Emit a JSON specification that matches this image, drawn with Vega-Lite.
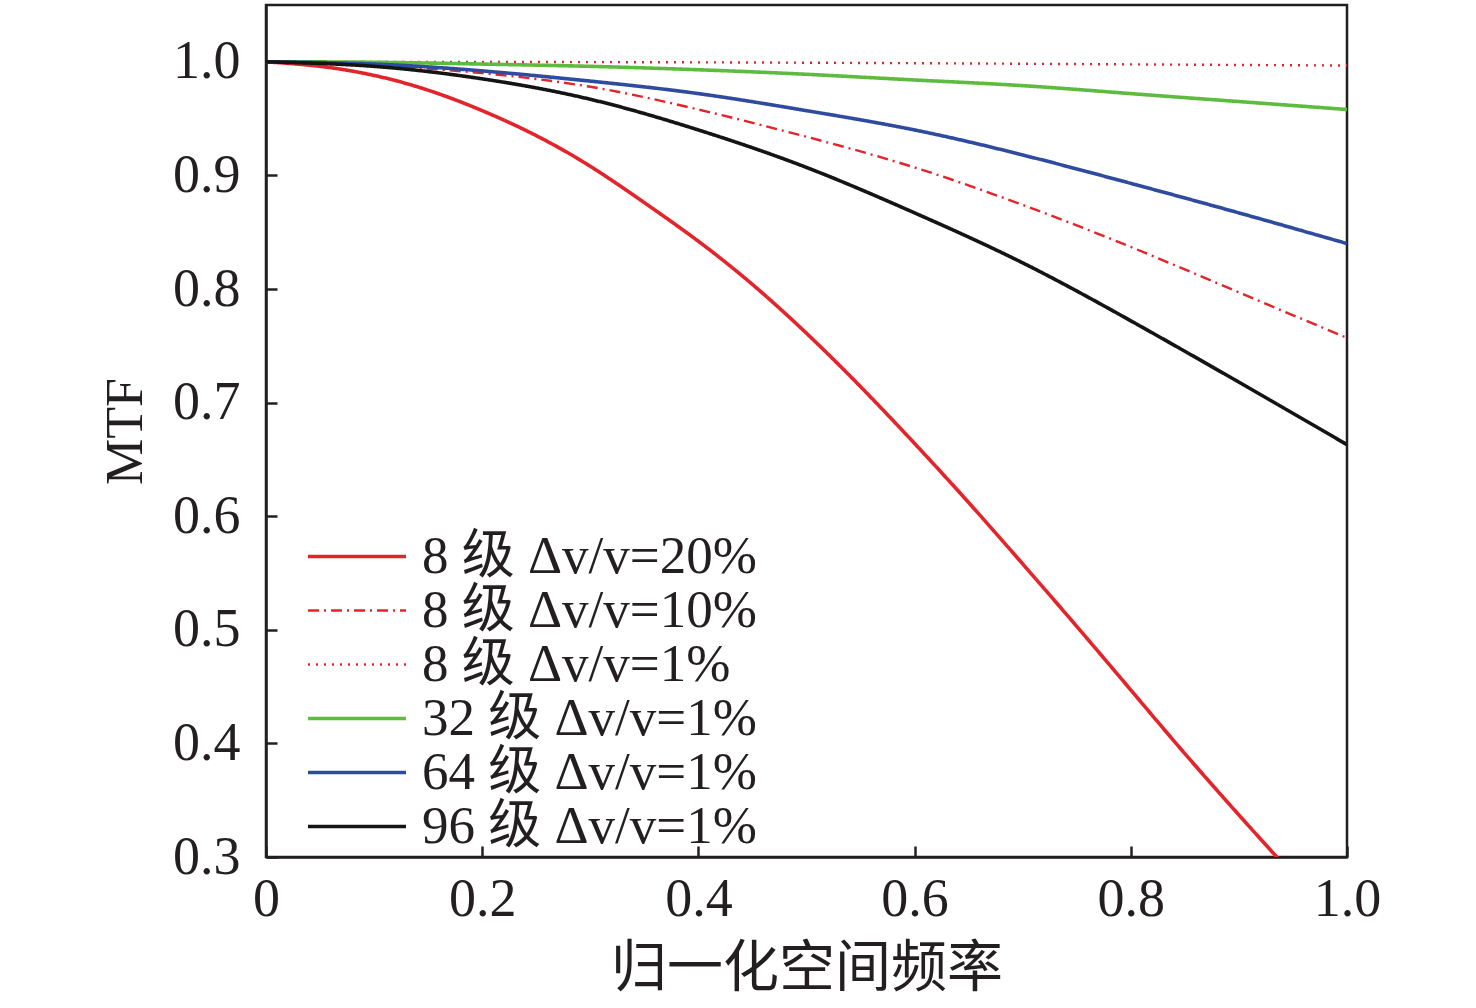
{
  "$schema": "https://vega.github.io/schema/vega-lite/v6.json",
  "autosize": "none",
  "padding": {"left": 266, "top": 5, "right": 129, "bottom": 151},
  "width": 1081,
  "height": 852,
  "background": "white",
  "config": {
    "view": {"stroke": "#231f20", "strokeWidth": 2.5},
    "font": "Liberation Serif",
    "axis": {
      "domainColor": "#231f20", "domainWidth": 2.5,
      "tickColor": "#231f20", "tickWidth": 2.5, "tickSize": -11,
      "labelFont": "Liberation Serif", "labelFontSize": 54, "labelColor": "#231f20",
      "labelFlush": false,
      "titleFont": "Liberation Serif, Noto Sans CJK SC", "titleFontSize": 52,
      "titleFontWeight": "normal", "titleColor": "#231f20",
      "grid": false
    },
    "legend": {
      "labelFont": "Liberation Serif, Noto Sans CJK SC", "labelFontSize": 53,
      "labelColor": "#231f20", "labelLimit": 0
    }
  },
  "data": {"values": [
    {"series": "8 级 Δv/v=20%", "x": 0, "y": 1.0},
    {"series": "8 级 Δv/v=20%", "x": 0.05, "y": 0.996},
    {"series": "8 级 Δv/v=20%", "x": 0.1, "y": 0.988},
    {"series": "8 级 Δv/v=20%", "x": 0.15, "y": 0.975},
    {"series": "8 级 Δv/v=20%", "x": 0.2, "y": 0.957},
    {"series": "8 级 Δv/v=20%", "x": 0.25, "y": 0.935},
    {"series": "8 级 Δv/v=20%", "x": 0.3, "y": 0.908},
    {"series": "8 级 Δv/v=20%", "x": 0.35, "y": 0.876},
    {"series": "8 级 Δv/v=20%", "x": 0.4, "y": 0.842},
    {"series": "8 级 Δv/v=20%", "x": 0.45, "y": 0.804},
    {"series": "8 级 Δv/v=20%", "x": 0.5, "y": 0.761},
    {"series": "8 级 Δv/v=20%", "x": 0.55, "y": 0.714},
    {"series": "8 级 Δv/v=20%", "x": 0.6, "y": 0.664},
    {"series": "8 级 Δv/v=20%", "x": 0.65, "y": 0.612},
    {"series": "8 级 Δv/v=20%", "x": 0.7, "y": 0.558},
    {"series": "8 级 Δv/v=20%", "x": 0.75, "y": 0.503},
    {"series": "8 级 Δv/v=20%", "x": 0.8, "y": 0.447},
    {"series": "8 级 Δv/v=20%", "x": 0.85, "y": 0.391},
    {"series": "8 级 Δv/v=20%", "x": 0.9, "y": 0.337},
    {"series": "8 级 Δv/v=20%", "x": 0.936, "y": 0.299},

    {"series": "8 级 Δv/v=10%", "x": 0, "y": 1.0},
    {"series": "8 级 Δv/v=10%", "x": 0.1, "y": 0.997},
    {"series": "8 级 Δv/v=10%", "x": 0.2, "y": 0.990},
    {"series": "8 级 Δv/v=10%", "x": 0.3, "y": 0.978},
    {"series": "8 级 Δv/v=10%", "x": 0.4, "y": 0.958},
    {"series": "8 级 Δv/v=10%", "x": 0.5, "y": 0.934},
    {"series": "8 级 Δv/v=10%", "x": 0.6, "y": 0.907},
    {"series": "8 级 Δv/v=10%", "x": 0.7, "y": 0.874},
    {"series": "8 级 Δv/v=10%", "x": 0.8, "y": 0.837},
    {"series": "8 级 Δv/v=10%", "x": 0.9, "y": 0.797},
    {"series": "8 级 Δv/v=10%", "x": 1.0, "y": 0.757},

    {"series": "8 级 Δv/v=1%", "x": 0, "y": 1.0},
    {"series": "8 级 Δv/v=1%", "x": 0.25, "y": 0.9998},
    {"series": "8 级 Δv/v=1%", "x": 0.5, "y": 0.9992},
    {"series": "8 级 Δv/v=1%", "x": 0.75, "y": 0.998},
    {"series": "8 级 Δv/v=1%", "x": 1.0, "y": 0.9967},

    {"series": "32 级 Δv/v=1%", "x": 0, "y": 1.0},
    {"series": "32 级 Δv/v=1%", "x": 0.1, "y": 0.9996},
    {"series": "32 级 Δv/v=1%", "x": 0.2, "y": 0.998},
    {"series": "32 级 Δv/v=1%", "x": 0.3, "y": 0.996},
    {"series": "32 级 Δv/v=1%", "x": 0.4, "y": 0.993},
    {"series": "32 级 Δv/v=1%", "x": 0.5, "y": 0.989},
    {"series": "32 级 Δv/v=1%", "x": 0.6, "y": 0.984},
    {"series": "32 级 Δv/v=1%", "x": 0.7, "y": 0.979},
    {"series": "32 级 Δv/v=1%", "x": 0.8, "y": 0.972},
    {"series": "32 级 Δv/v=1%", "x": 0.9, "y": 0.965},
    {"series": "32 级 Δv/v=1%", "x": 1.0, "y": 0.958},

    {"series": "64 级 Δv/v=1%", "x": 0, "y": 1.0},
    {"series": "64 级 Δv/v=1%", "x": 0.1, "y": 0.998},
    {"series": "64 级 Δv/v=1%", "x": 0.2, "y": 0.992},
    {"series": "64 级 Δv/v=1%", "x": 0.3, "y": 0.983},
    {"series": "64 级 Δv/v=1%", "x": 0.4, "y": 0.972},
    {"series": "64 级 Δv/v=1%", "x": 0.5, "y": 0.957},
    {"series": "64 级 Δv/v=1%", "x": 0.6, "y": 0.940},
    {"series": "64 级 Δv/v=1%", "x": 0.7, "y": 0.918},
    {"series": "64 级 Δv/v=1%", "x": 0.8, "y": 0.893},
    {"series": "64 级 Δv/v=1%", "x": 0.9, "y": 0.867},
    {"series": "64 级 Δv/v=1%", "x": 1.0, "y": 0.840},

    {"series": "96 级 Δv/v=1%", "x": 0, "y": 1.0},
    {"series": "96 级 Δv/v=1%", "x": 0.1, "y": 0.996},
    {"series": "96 级 Δv/v=1%", "x": 0.2, "y": 0.985},
    {"series": "96 级 Δv/v=1%", "x": 0.3, "y": 0.967},
    {"series": "96 级 Δv/v=1%", "x": 0.4, "y": 0.940},
    {"series": "96 级 Δv/v=1%", "x": 0.5, "y": 0.907},
    {"series": "96 级 Δv/v=1%", "x": 0.6, "y": 0.867},
    {"series": "96 级 Δv/v=1%", "x": 0.7, "y": 0.823},
    {"series": "96 级 Δv/v=1%", "x": 0.8, "y": 0.772},
    {"series": "96 级 Δv/v=1%", "x": 0.9, "y": 0.718},
    {"series": "96 级 Δv/v=1%", "x": 1.0, "y": 0.663}
  ]},
  "mark": {"type": "line", "interpolate": "natural", "clip": true},
  "encoding": {
    "x": {
      "field": "x", "type": "quantitative",
      "scale": {"domain": [0, 1], "nice": false},
      "axis": {"values": [0, 0.2, 0.4, 0.6, 0.8, 1.0], "labelExpr": "datum.value === 0 ? '0' : format(datum.value, '.1f')",
               "labelPadding": 26, "title": "归一化空间频率", "titleFont": "Noto Sans CJK SC", "titleFontSize": 56, "titlePadding": 15}
    },
    "y": {
      "field": "y", "type": "quantitative",
      "scale": {"domain": [0.3, 1.05], "nice": false, "zero": false},
      "axis": {"values": [0.3, 0.4, 0.5, 0.6, 0.7, 0.8, 0.9, 1.0], "format": ".1f",
               "labelPadding": 37, "title": "MTF", "titlePadding": 20}
    },
    "color": {
      "field": "series", "type": "nominal",
      "scale": {
        "domain": ["8 级 Δv/v=20%", "8 级 Δv/v=10%", "8 级 Δv/v=1%", "32 级 Δv/v=1%", "64 级 Δv/v=1%", "96 级 Δv/v=1%"],
        "range": ["#e3242b", "#e3242b", "#e3242b", "#5dbb3f", "#2e4b9f", "#141414"]
      },
      "legend": {
        "title": null, "orient": "none", "legendX": 40, "legendY": 525, "padding": 0,
        "symbolType": "stroke", "symbolSize": 9604,
        "clipHeight": 53, "labelOffset": 14, "rowPadding": 0
      }
    },
    "strokeDash": {
      "field": "series", "type": "nominal",
      "scale": {
        "domain": ["8 级 Δv/v=20%", "8 级 Δv/v=10%", "8 级 Δv/v=1%", "32 级 Δv/v=1%", "64 级 Δv/v=1%", "96 级 Δv/v=1%"],
        "range": [[1, 0], [11, 5, 2, 5], [2, 6], [1, 0], [1, 0], [1, 0]]
      }
    },
    "strokeWidth": {
      "field": "series", "type": "nominal",
      "scale": {
        "type": "ordinal",
        "domain": ["8 级 Δv/v=20%", "8 级 Δv/v=10%", "8 级 Δv/v=1%", "32 级 Δv/v=1%", "64 级 Δv/v=1%", "96 级 Δv/v=1%"],
        "range": [3.6, 2.4, 2.4, 3.6, 3.6, 3.6]
      }
    }
  }
}
